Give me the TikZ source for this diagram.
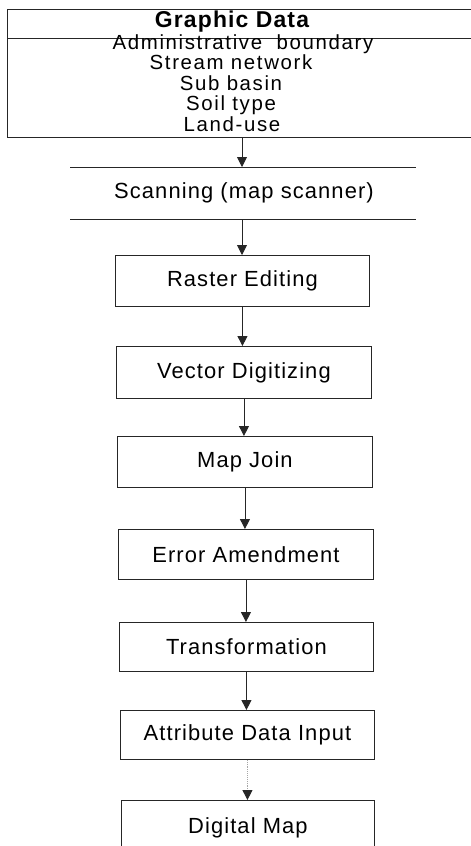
\documentclass[tikz,border=0pt]{standalone}
\usepackage{fontspec}
\setmainfont{Liberation Sans}[LetterSpace=5]
\newfontfamily\listfont{Liberation Sans}[LetterSpace=8]
\usetikzlibrary{arrows.meta}
\begin{document}
\begin{tikzpicture}[x=1bp,y=-1bp,
  line/.style={draw=black!85,line width=0.9bp},
  stepbox/.style={line,rectangle,anchor=north west,inner sep=0pt,
    font=\fontsize{22}{22}\selectfont},
  txt/.style={inner sep=0pt,font=\fontsize{22}{22}\selectfont},
  listtxt/.style={inner sep=0pt,font=\listfont\fontsize{20.5}{21}\selectfont,text height=13bp,text depth=4bp},
  arr/.style={line,-{Triangle[length=10bp,width=10bp]}}]
\useasboundingbox (0,0) rectangle (471,846);
% top box
\node[line,rectangle,anchor=north west,minimum width=467bp,minimum height=128bp,inner sep=0pt] (gd) at (7,9) {};
\coordinate (dl) at (7,38);
\coordinate (dr) at (474,38);
\draw[line] (dl) -- (dr);
\node[txt,font=\fontsize{23}{22}\selectfont\bfseries] (head) at (232,22) {Graphic Data};
\node[listtxt] (t1) at (243,45) {Administrative\ \ boundary};
\node[listtxt] (t2) at (231,65) {Stream network};
\node[listtxt] (t3) at (231,85.5) {Sub basin};
\node[listtxt] (t4) at (231,106) {Soil type};
\node[listtxt] (t5) at (232,126.5) {Land-use};
% scanning (horizontal rules only)
\node[stepbox,draw=none,minimum width=345bp,minimum height=52bp] (scan) at (70,167) {};
\node[txt] (scant) at (244,193) {Scanning (map scanner)};
\draw[line] (scan.north west) -- (scan.north east);
\draw[line] (scan.south west) -- (scan.south east);
% boxes
\node[stepbox,minimum width=254bp,minimum height=51bp] (raster) at (115,255) {Raster Editing};
\node[stepbox,minimum width=255bp,minimum height=52bp] (vector) at (116,346) {Vector Digitizing};
\node[stepbox,minimum width=255bp,minimum height=51bp] (join) at (117,436) {Map Join};
\node[stepbox,minimum width=255bp,minimum height=50bp] (error) at (118,529) {Error Amendment};
\node[stepbox,minimum width=254bp,minimum height=49bp] (trans) at (119,622) {Transformation};
\node[stepbox,minimum width=254bp,minimum height=49bp] (attr) at (120,710) {Attribute Data Input};
\node[stepbox,minimum width=253bp,minimum height=54bp] (digi) at (121,800) {Digital Map};
% arrows
\coordinate (a0) at (242,137);
\draw[arr] (a0) -- (a0 |- scan.north);
\coordinate (a1) at (242,219);
\draw[arr] (a1) -- (a1 |- raster.north);
\draw[arr] (raster.south) -- (raster.south |- vector.north);
\draw[arr] (vector.south) -- (vector.south |- join.north);
\draw[arr] (join.south) -- (join.south |- error.north);
\draw[arr] (error.south) -- (error.south |- trans.north);
\draw[arr] (trans.south) -- (trans.south |- attr.north);
\draw[line,draw=black!35,densely dotted,-{Triangle[length=10bp,width=10bp,color=black!85]}] (attr.south) -- (attr.south |- digi.north);
\end{tikzpicture}
\end{document}
